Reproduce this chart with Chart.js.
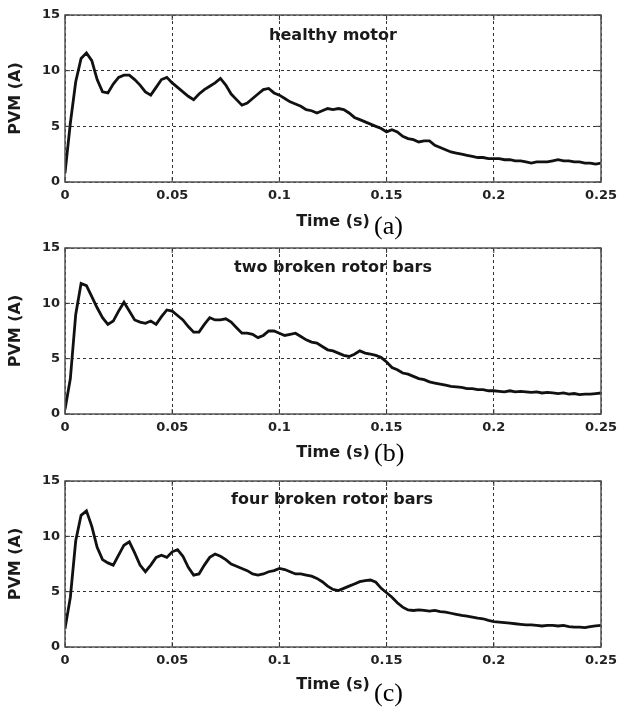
<!DOCTYPE html>
<html>
<head>
<meta charset="utf-8">
<script src="https://cdn.jsdelivr.net/npm/chart.js@4.4.0/dist/chart.umd.min.js"></script>
<style>
  html, body { margin: 0; padding: 0; background: #fff; }
  body { width: 617px; height: 710px; position: relative; overflow: hidden; }
  .panel { position: absolute; left: 0; width: 617px; }
  .case { position: absolute; font-family: 'DejaVu Sans', sans-serif; font-weight: bold; font-size: 16px; line-height: 20px; color: #1a1a1a; white-space: nowrap; transform: translateX(-50%); }
  .tag { position: absolute; font-family: 'Liberation Serif', 'Times New Roman', serif; font-size: 26px; line-height: 26px; color: #000; }
</style>
</head>
<body>

<div class="case" style="left:333px;top:25px">healthy motor</div>
<div class="case" style="left:333px;top:257px">two broken rotor bars</div>
<div class="case" style="left:332px;top:489px">four broken rotor bars</div>
<div class="tag" style="left:374px;top:213px">(a)</div>
<div class="tag" style="left:374px;top:440px">(b)</div>
<div class="tag" style="left:374px;top:680px">(c)</div>

<script>
// sample step of the PVM traces (s)
const dt = 0.0025

const xTicks = [0, 0.05, 0.1, 0.15, 0.2, 0.25]
const xTickLabels = ['0', '0.05', '0.1', '0.15', '0.2', '0.25']
const yTicks = [0, 5, 10, 15]

// PVM current (A), one value per sample
const healthy = [
  0.8, 5.3, 9.0, 11.1, 11.6, 10.9, 9.2, 8.1, 8.0, 8.8,
  9.4, 9.6, 9.6, 9.2, 8.7, 8.1, 7.8, 8.5, 9.2, 9.4,
  8.9, 8.5, 8.1, 7.7, 7.4, 7.9, 8.3, 8.6, 8.9, 9.3,
  8.7, 7.9, 7.4, 6.9, 7.1, 7.5, 7.9, 8.3, 8.4, 8.0,
  7.8, 7.5, 7.2, 7.0, 6.8, 6.5, 6.4, 6.2, 6.4, 6.6,
  6.5, 6.6, 6.5, 6.2, 5.8, 5.6, 5.4, 5.2, 5.0, 4.8,
  4.5, 4.7, 4.5, 4.1, 3.9, 3.8, 3.6, 3.7, 3.7, 3.3,
  3.1, 2.9, 2.7, 2.6, 2.5, 2.4, 2.3, 2.2, 2.2, 2.1,
  2.1, 2.1, 2.0, 2.0, 1.9, 1.9, 1.8, 1.7, 1.8, 1.8,
  1.8, 1.9, 2.0, 1.9, 1.9, 1.8, 1.8, 1.7, 1.7, 1.6,
  1.7
]

const twoBars = [
  0.4, 3.2, 9.0, 11.8, 11.6, 10.6, 9.6, 8.7, 8.1, 8.4,
  9.3, 10.1, 9.3, 8.5, 8.3, 8.2, 8.4, 8.1, 8.8, 9.4,
  9.3, 8.9, 8.5, 7.9, 7.4, 7.4, 8.1, 8.7, 8.5, 8.5,
  8.6, 8.3, 7.8, 7.3, 7.3, 7.2, 6.9, 7.1, 7.5, 7.5,
  7.3, 7.1, 7.2, 7.3, 7.0, 6.7, 6.5, 6.4, 6.1, 5.8,
  5.7, 5.5, 5.3, 5.2, 5.4, 5.7, 5.5, 5.4, 5.3, 5.1,
  4.7, 4.2, 4.0, 3.7, 3.6, 3.4, 3.2, 3.1, 2.9, 2.8,
  2.7, 2.6, 2.5, 2.45, 2.4, 2.3, 2.3, 2.2, 2.2, 2.1,
  2.1, 2.05, 2.0, 2.1, 2.0, 2.05, 2.0, 1.95, 2.0, 1.9,
  1.95, 1.9, 1.85, 1.9, 1.8, 1.85, 1.75, 1.8, 1.8, 1.85,
  1.9
]

const fourBars = [
  1.65, 4.5, 9.6, 11.9, 12.3, 10.9, 9.0, 7.9, 7.6, 7.4,
  8.3, 9.2, 9.5, 8.5, 7.4, 6.8, 7.4, 8.1, 8.3, 8.1,
  8.6, 8.8, 8.2, 7.2, 6.5, 6.6, 7.4, 8.1, 8.4, 8.2,
  7.9, 7.5, 7.3, 7.1, 6.9, 6.6, 6.5, 6.6, 6.8, 6.9,
  7.1, 7.0, 6.8, 6.6, 6.6, 6.5, 6.4, 6.2, 5.9, 5.5,
  5.2, 5.1, 5.3, 5.5, 5.7, 5.9, 6.0, 6.05, 5.85, 5.3,
  4.9, 4.5, 4.0, 3.6, 3.35, 3.3, 3.35, 3.3, 3.25, 3.3,
  3.2, 3.15, 3.05, 2.95, 2.85, 2.8, 2.7, 2.6, 2.55, 2.4,
  2.3, 2.25, 2.2, 2.15, 2.1, 2.05, 2.0, 2.0, 1.95, 1.9,
  1.95, 1.95, 1.9, 1.95, 1.85, 1.8, 1.8, 1.75, 1.85, 1.9,
  1.95
]

// canvas placement and plot box edges, in page pixels
const panels = [
  { values: healthy,  top: 0,   height: 240, plotTop: 15,  plotBottom: 182 },
  { values: twoBars,  top: 240, height: 231, plotTop: 248, plotBottom: 414 },
  { values: fourBars, top: 471, height: 232, plotTop: 481, plotBottom: 647 }
]

const PLOT_LEFT = 65
const PLOT_RIGHT = 601
const PAGE_W = 617

// box around the axes plus short inward ticks on all four sides
const frame = {
    id: 'frame',
    afterDatasetsDraw(chart) {
        const { ctx, chartArea: a, scales } = chart
        ctx.save()
        ctx.strokeStyle = '#333'
        ctx.lineWidth = 1
        ctx.beginPath()
        scales.x.ticks.forEach(t => {
            const px = scales.x.getPixelForValue(t.value)
            ctx.moveTo(px, a.bottom); ctx.lineTo(px, a.bottom - 5)
            ctx.moveTo(px, a.top); ctx.lineTo(px, a.top + 5)
        })
        scales.y.ticks.forEach(t => {
            const py = scales.y.getPixelForValue(t.value)
            ctx.moveTo(a.left, py); ctx.lineTo(a.left + 5, py)
            ctx.moveTo(a.right, py); ctx.lineTo(a.right - 5, py)
        })
        ctx.stroke()
        ctx.strokeStyle = '#555'
        ctx.lineWidth = 1.5
        ctx.strokeRect(a.left, a.top, a.right - a.left, a.bottom - a.top)
        ctx.restore()
    }
}

Chart.defaults.font.family = "'DejaVu Sans', sans-serif"
Chart.defaults.font.weight = 'bold'
Chart.defaults.color = '#222'

panels.forEach(p => {
    const box = document.createElement('div')
    box.className = 'panel'
    box.style.top = p.top + 'px'
    box.style.height = p.height + 'px'
    const canvas = document.createElement('canvas')
    canvas.width = PAGE_W
    canvas.height = p.height
    box.appendChild(canvas)
    document.body.insertBefore(box, document.body.firstChild)

    const plotTop = p.plotTop - p.top
    const plotBottom = p.plotBottom - p.top

    new Chart(canvas, {
        type: 'line',
        data: {
            datasets: [{
                data: p.values.map((v, i) => ({ x: i * dt, y: v })),
                borderColor: '#111',
                borderWidth: 2.8,
                pointRadius: 0,
                tension: 0,
                fill: false
            }]
        },
        options: {
            responsive: false,
            animation: false,
            events: [],
            layout: { padding: { left: 0, right: PAGE_W - PLOT_RIGHT, top: plotTop, bottom: 0 } },
            plugins: { legend: { display: false }, tooltip: { enabled: false } },
            scales: {
                x: {
                    type: 'linear',
                    min: 0,
                    max: 0.25,
                    afterBuildTicks: s => { s.ticks = xTicks.map(v => ({ value: v })) },
                    afterFit: s => {
                        s.height = p.height - plotBottom
                        // let the end labels spill into the page margin
                        s.paddingLeft = 0
                        s.paddingRight = 0
                    },
                    ticks: {
                        font: { size: 13, weight: 'bold' },
                        padding: 6,
                        maxRotation: 0,
                        autoSkip: false,
                        callback: (v, i) => xTickLabels[i]
                    },
                    grid: { color: '#333', lineWidth: 1, drawTicks: false },
                    border: { display: false, dash: [3, 3] },
                    title: {
                        display: true,
                        text: 'Time (s)',
                        font: { size: 16, weight: 'bold' },
                        color: '#1a1a1a',
                        padding: { top: 9, bottom: 9 }
                    }
                },
                y: {
                    min: 0,
                    max: 15,
                    afterBuildTicks: s => { s.ticks = yTicks.map(v => ({ value: v })) },
                    afterFit: s => {
                        s.width = PLOT_LEFT
                        s.paddingTop = 0
                        s.paddingBottom = 0
                    },
                    ticks: {
                        font: { size: 13, weight: 'bold' },
                        padding: 5
                    },
                    grid: { color: '#333', lineWidth: 1, drawTicks: false },
                    border: { display: false, dash: [3, 3] },
                    title: {
                        display: true,
                        text: 'PVM (A)',
                        font: { size: 16, weight: 'bold' },
                        color: '#1a1a1a',
                        padding: { top: 6, bottom: 6 }
                    }
                }
            }
        },
        plugins: [frame]
    })
})
</script>
</body>
</html>
